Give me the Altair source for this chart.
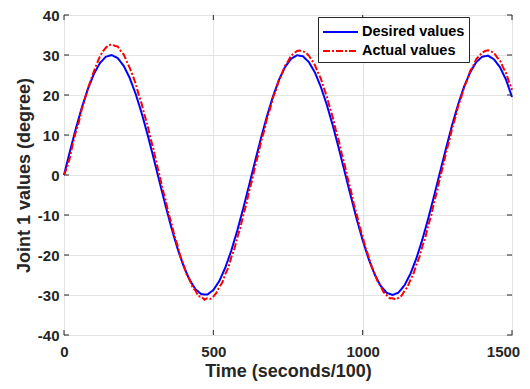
import altair as alt
import pandas as pd

series_names = ["Desired values", "Actual values"]
x_ticks = [0, 500, 1000, 1500]
y_ticks = [-40, -30, -20, -10, 0, 10, 20, 30, 40]

t_desired = list(range(0, 1501, 20))
desired = [
    0.0, 5.96, 11.68, 16.94, 21.52, 25.24, 27.96, 29.56, 29.99, 29.21,
    27.28, 24.26, 20.26, 15.47, 10.05, 4.23, -1.75, -7.66, -13.28, -18.36,
    -22.70, -26.15, -28.55, -29.81, -29.89, -28.77, -26.51, -23.18, -18.94, -13.94,
    -8.38, -2.49, 3.50, 9.35, 14.82, 19.71, 23.81, 26.96, 29.04, 29.95,
    29.68, 28.22, 25.64, 22.03, 17.55, 12.36, 6.69, 0.74, -5.23, -11.00,
    -16.32, -21.00, -24.83, -27.68, -29.43, -30.00, -29.38, -27.58, -24.68, -20.81,
    -16.10, -10.75, -4.97, 1.01, 6.94, 12.61, 17.75, 22.18, 25.68, 28.19,
    29.57, 29.84, 28.88, 26.91, 23.82, 19.51,
]

t_actual = list(range(0, 1501, 10))
actual = [
    0.0, 1.9, 4.4, 8.0, 10.9, 13.3, 16.6, 19.0, 21.6, 23.8,
    25.9, 27.8, 29.6, 30.9, 31.8, 32.5, 32.6, 32.3, 32.1, 31.0,
    30.1, 28.4, 26.8, 24.9, 22.8, 20.1, 17.8, 14.9, 12.3, 9.1,
    6.3, 2.9, -0.1, -3.5, -6.2, -9.6, -12.1, -15.3, -17.6, -20.4,
    -22.3, -24.7, -26.0, -28.0, -28.9, -30.3, -30.4, -31.2, -30.8, -31.0,
    -30.4, -29.5, -28.0, -26.9, -24.8, -23.2, -20.6, -18.6, -15.7, -13.3,
    -10.1, -7.4, -4.0, -1.2, 2.2, 5.0, 8.4, 11.0, 14.2, 16.5,
    19.4, 21.3, 23.8, 25.4, 27.3, 28.4, 29.8, 30.4, 31.0, 31.1,
    30.9, 30.6, 29.8, 28.7, 27.5, 25.7, 24.1, 21.8, 19.6, 16.9,
    14.4, 11.3, 8.6, 5.3, 2.5, -0.9, -3.7, -7.1, -9.8, -12.9,
    -15.4, -18.3, -20.4, -22.9, -24.6, -26.6, -27.8, -29.3, -30.0, -30.8,
    -30.8, -31.1, -30.7, -30.2, -29.0, -28.0, -26.2, -24.7, -22.4, -20.5,
    -17.8, -15.6, -12.5, -10.0, -6.5, -3.8, -0.3, 2.4, 5.9, 8.5,
    11.8, 14.3, 17.3, 19.4, 22.1, 23.8, 26.0, 27.3, 28.9, 29.8,
    30.6, 31.0, 31.2, 30.9, 30.5, 29.4, 28.6, 26.9, 25.5, 23.3,
    21.3,
]

df_des = pd.DataFrame({"t": t_desired, "v": desired, "series": series_names[0]})
df_act = pd.DataFrame({"t": t_actual, "v": actual, "series": series_names[1]})
df_yt = pd.DataFrame({"v": y_ticks})
df_xt = pd.DataFrame({"t": x_ticks})

W, H = 448, 320
DARK = "#262626"

x_scale = alt.Scale(domain=[0, 1500], nice=False)
y_scale = alt.Scale(domain=[-40, 40], nice=False)

x_axis = alt.Axis(values=x_ticks, labelExpr="'' + datum.value", title="Time (seconds/100)", labelPadding=9,
                  labelOverlap=False, labelFlush=False,
                  labelOffset={"condition": {"test": "datum.value == 1500", "value": -9}, "value": 0},
                  titleX=W / 2, titleY=41, titleBaseline="alphabetic")
y_axis = alt.Axis(values=y_ticks, labelExpr="'' + datum.value", title="Joint 1 values (degree)", labelPadding=5,
                  labelOverlap=False, labelFlush=False,
                  titleX=-35, titleY=H / 2, titleAngle=270, titleBaseline="alphabetic")

x_enc = alt.X("t:Q", scale=x_scale, axis=x_axis)
y_enc = alt.Y("v:Q", scale=y_scale, axis=y_axis)
color_enc = alt.Color("series:N", scale=alt.Scale(domain=series_names, range=["#0000ff", "#ff0000"]),
                      legend=alt.Legend(title=None))
dash_enc = alt.StrokeDash("series:N", scale=alt.Scale(domain=series_names, range=[[1, 0], [7, 2, 2, 2]]),
                          legend=alt.Legend(title=None))

blue = alt.Chart(df_des).mark_line(strokeWidth=2).encode(x=x_enc, y=y_enc, color=color_enc, strokeDash=dash_enc)
red = alt.Chart(df_act).mark_line(strokeWidth=2).encode(x=x_enc, y=y_enc, color=color_enc, strokeDash=dash_enc)

tick_l = alt.Chart(df_yt).mark_rule(color=DARK, strokeWidth=1).encode(
    y=y_enc, x=alt.value(0), x2=alt.value(5))
tick_r = alt.Chart(df_yt).mark_rule(color=DARK, strokeWidth=1).encode(
    y=y_enc, x=alt.value(W - 5), x2=alt.value(W))
tick_b = alt.Chart(df_xt).mark_rule(color=DARK, strokeWidth=1).encode(
    x=x_enc, y=alt.value(H - 5), y2=alt.value(H))
tick_t = alt.Chart(df_xt).mark_rule(color=DARK, strokeWidth=1).encode(
    x=x_enc, y=alt.value(0), y2=alt.value(5))

chart = (
    alt.layer(blue, red, tick_l, tick_r, tick_b, tick_t)
    .properties(width=W, height=H, autosize=alt.AutoSizeParams(type="none"),
                padding={"left": 56, "top": 7, "right": 10, "bottom": 46})
    .configure_view(stroke=DARK, strokeWidth=1)
    .configure_axis(
        grid=True, gridColor="#e3e3e3", gridWidth=1, domain=False, ticks=False, tickSize=0,
        labelFont="Liberation Sans", labelFontWeight="bold", labelFontSize=15, labelColor=DARK,
        titleFont="Liberation Sans", titleFontWeight="bold", titleFontSize=18, titleColor=DARK,
    )
    .configure_legend(
        orient="none", legendX=254, legendY=2, fillColor="white", strokeColor=DARK,
        padding=4, symbolType="M-1,0H2.5", symbolSize=400, symbolStrokeWidth=2,
        labelFont="Liberation Sans", labelFontWeight="bold", labelFontSize=14.5, labelColor="#000000",
        labelOffset=18, rowPadding=1,
    )
)

chart.save("out.html", embed_options={"renderer": "svg", "actions": False})
